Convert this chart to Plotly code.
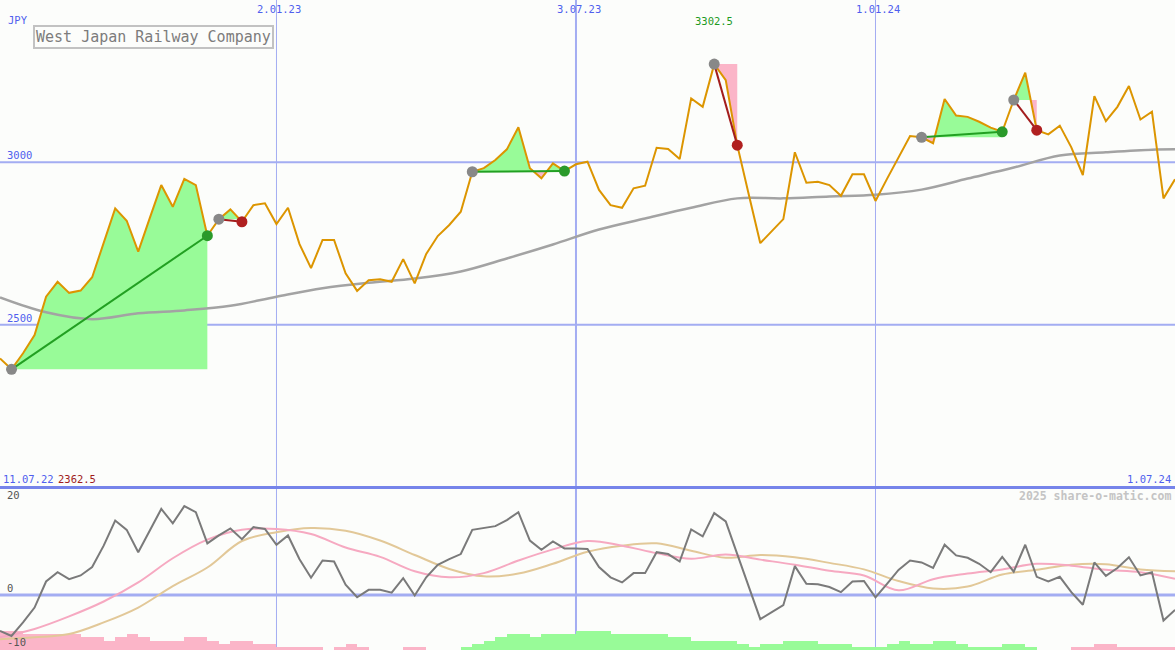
import pandas as pd
import plotly.graph_objects as go

# ---------------- data ----------------
start_date = "2022-07-18"
n_weeks = 103
dates = pd.date_range(start_date, periods=n_weeks, freq="7D")

price = [2396, 2362.5, 2412, 2468, 2586, 2632, 2598, 2605, 2646, 2752,
         2858, 2820, 2725, 2828, 2930, 2863, 2949, 2930, 2774, 2825,
         2855, 2817, 2868, 2874, 2810, 2860, 2748, 2674, 2761, 2761,
         2658, 2604, 2637, 2640, 2632, 2702, 2627, 2718, 2773, 2807,
         2848, 2971, 2982, 3007, 3040, 3108, 2982, 2951, 2997, 2973,
         2994, 3002, 2915, 2868, 2860, 2920, 2928, 3045, 3041, 3010,
         3197, 3171, 3302.5, 3253, 3053, 2901, 2751, 2788, 2825, 3031,
         2937, 2940, 2930, 2897, 2963, 2963, 2881, 2949, 3016, 3081,
         3077, 3059, 3195, 3144, 3140, 3125, 3107, 3094, 3192, 3276,
         3099, 3086, 3113, 3046, 2961, 3204, 3127, 3171, 3235, 3132,
         3156, 2889, 2948]

# long moving average (grey), read at selected weeks
ma_weeks = [0, 4, 8, 12, 16, 20, 24, 28, 32, 36, 40, 44, 48, 52, 56, 60,
            64, 68, 72, 76, 80, 84, 88, 92, 96, 100, 102]
ma_vals = [2584, 2538, 2517, 2535, 2544, 2558, 2586, 2612, 2629, 2642, 2664,
           2704, 2747, 2793, 2827, 2860, 2889, 2889, 2895, 2900, 2916, 2950,
           2984, 3021, 3031, 3039, 3040]

# trend segments: (start week, end week)
segments = [(1, 18), (19, 21), (41, 49), (62, 64), (80, 87), (88, 90)]

# oscillator (lower panel)
osc = [-7.7, -8.8, -5.9, -2.7, 2.9, 4.9, 3.4, 4.2, 6.0, 10.6,
       16.0, 14.0, 9.2, 14.0, 18.5, 15.4, 19.1, 17.8, 11.1, 12.8,
       14.3, 12.0, 14.6, 14.2, 10.8, 12.8, 7.7, 3.7, 7.4, 7.2,
       2.2, -0.5, 1.1, 1.1, 0.5, 3.6, -0.1, 3.8, 6.5, 7.7,
       8.8, 14.0, 14.4, 14.8, 16.1, 17.8, 11.7, 9.7, 11.5, 10.0,
       10.0, 9.9, 6.0, 3.8, 2.7, 4.7, 4.7, 9.2, 8.8, 7.2,
       14.1, 12.6, 17.6, 15.8, 8.8, 1.7, -5.2, -3.7, -2.2, 6.2,
       2.4, 2.3, 1.7, 0.6, 2.9, 3.0, -0.5, 2.4, 5.4, 7.4,
       7.0, 5.8, 10.8, 8.5, 8.0, 6.7, 4.9, 8.2, 5.0, 10.8,
       3.9, 2.9, 3.9, 0.6, -2.1, 7.0, 4.1, 5.8, 8.1, 4.2,
       4.9, -5.5, -3.2]

avg_weeks = list(range(0, 103, 3))
avg_pink = [-9.1, -7.3, -4.6, -1.4, 2.7, 7.9, 11.9, 14.0, 14.2, 13.1, 10.2, 8.2,
            5.1, 3.8, 4.7, 7.4, 9.8, 11.6, 10.6, 9.0, 7.8, 8.7, 7.6, 6.5,
            5.2, 4.2, 1.0, 3.4, 4.6, 5.5, 6.7, 6.3, 5.4, 4.9, 3.5]
avg_tan = [-9.5, -9.1, -8.4, -5.9, -2.7, 1.9, 5.9, 11.6, 13.5, 14.4, 13.8, 11.7,
           8.6, 5.6, 4.0, 4.6, 6.7, 9.3, 10.6, 11.1, 9.5, 8.0, 8.6, 8.1,
           6.9, 5.5, 3.0, 1.4, 1.8, 4.4, 5.4, 6.5, 6.6, 5.5, 5.1]

# histogram levels, one per week interval
hist = [-6, -6, -5, -5, -5, -5, -5, -4, -4, -3,
        -4, -5, -4, -3, -3, -3, -4, -4, -3, -2,
        -3, -3, -2, -2, -1, -1, -1, -1, 0, -1,
        -2, -1, 0, 0, 0, -1, -1, 0, 0, 0,
        1, 2, 3, 4, 5, 5, 4, 5, 5, 5,
        6, 6, 6, 5, 5, 5, 5, 5, 4, 4,
        3, 3, 3, 3, 2, 1, 2, 2, 3, 3,
        3, 2, 2, 2, 1, 1, 1, 2, 3, 2,
        2, 3, 3, 2, 1, 1, 1, 2, 2, 1,
        0, 0, 0, -1, -1, -2, -2, -1, -1, -1,
        -1, -1]

tick_dates = ["2023-01-02", "2023-07-03", "2024-01-01"]
tick_labels = ["2.01.23", "3.07.23", "1.01.24"]
tick_widths = [1, 2, 1]
main_levels = [2500, 3000]
low_levels = [20, 0, -10]
title = "West Japan Railway Company"
currency = "JPY"
first_label = "11.07.22"
last_label = "1.07.24"
copyright_text = "2025 share-o-matic.com"

# ---------------- style ----------------
W, H = 1175, 650
BG = "#fcfdfb"
BLUE_TXT = "#4f5fee"
GRID = "#a3adf2"
SEP = "#7684ea"
ORANGE = "#dc9500"
MA_GREY = "#a3a3a3"
OSC_GREY = "#7a7a7a"
PINK_LINE = "#f6a9c1"
TAN_LINE = "#e2c898"
FILL_GREEN = "#98fb98"
FILL_PINK = "#fbb5c8"
LINE_GREEN = "#22a022"
LINE_RED = "#a31d1d"
DOT_GREY = "#888888"
DOT_GREEN = "#2a9a2a"
DOT_RED = "#b02020"
FONT = "DejaVu Sans Mono"

MAIN_RANGE = [2000, 3500]
LOW_RANGE = [-11.83, 23.0]
MAIN_BOTTOM_PX = 487
LOW_TOP_PX = 488
BAR_UNIT = 3.15 / ((H - LOW_TOP_PX) / (LOW_RANGE[1] - LOW_RANGE[0]))

fig = go.Figure()

# ---- trend fills ----
def seg_fill(i0, i1):
    base = price[i0]
    xs, hi, lo = [], [], []
    for k in range(i0, i1 + 1):
        if k > i0:
            a, b = price[k - 1] - base, price[k] - base
            if a * b < 0:
                f = a / (a - b)
                t = dates[k - 1] + (dates[k] - dates[k - 1]) * f
                xs.append(t); hi.append(base); lo.append(base)
        xs.append(dates[k])
        hi.append(max(price[k], base))
        lo.append(min(price[k], base))
    return xs, base, hi, lo

for (i0, i1) in segments:
    xs, base, hi, lo = seg_fill(i0, i1)
    for vals, col in ((hi, FILL_GREEN), (lo, FILL_PINK)):
        fig.add_trace(go.Scatter(x=xs, y=[base] * len(xs), mode="lines",
                                 line=dict(width=0), hoverinfo="skip",
                                 xaxis="x", yaxis="y"))
        fig.add_trace(go.Scatter(x=xs, y=vals, mode="lines", line=dict(width=0),
                                 fill="tonexty", fillcolor=col, hoverinfo="skip",
                                 xaxis="x", yaxis="y"))

# ---- moving average & price ----
fig.add_trace(go.Scatter(x=[dates[i] for i in ma_weeks], y=ma_vals, mode="lines",
                         line=dict(color=MA_GREY, width=2.5, shape="spline", smoothing=1.0),
                         xaxis="x", yaxis="y"))
fig.add_trace(go.Scatter(x=dates, y=price, mode="lines",
                         line=dict(color=ORANGE, width=2), xaxis="x", yaxis="y"))

# ---- segment lines and dots ----
for (i0, i1) in segments:
    up = price[i1] >= price[i0]
    lc = LINE_GREEN if up else LINE_RED
    fig.add_trace(go.Scatter(x=[dates[i0], dates[i1]], y=[price[i0], price[i1]],
                             mode="lines", line=dict(color=lc, width=2),
                             xaxis="x", yaxis="y"))
    fig.add_trace(go.Scatter(x=[dates[i0], dates[i1]], y=[price[i0], price[i1]],
                             mode="markers",
                             marker=dict(size=11, color=[DOT_GREY, DOT_GREEN if up else DOT_RED],
                                         line=dict(width=0)),
                             xaxis="x", yaxis="y"))

# ---- lower panel ----
bar_w = 7 * 24 * 3600 * 1000
fig.add_trace(go.Bar(x=list(dates[:len(hist)]), y=[abs(v) * BAR_UNIT for v in hist],
                     base=LOW_RANGE[0], offset=0, width=bar_w,
                     marker=dict(color=[FILL_GREEN if v > 0 else FILL_PINK for v in hist],
                                 line=dict(width=0)),
                     xaxis="x2", yaxis="y2"))
fig.add_trace(go.Scatter(x=[dates[i] for i in avg_weeks], y=avg_tan, mode="lines",
                         line=dict(color=TAN_LINE, width=2, shape="spline"),
                         xaxis="x2", yaxis="y2"))
fig.add_trace(go.Scatter(x=[dates[i] for i in avg_weeks], y=avg_pink, mode="lines",
                         line=dict(color=PINK_LINE, width=2, shape="spline"),
                         xaxis="x2", yaxis="y2"))
fig.add_trace(go.Scatter(x=dates, y=osc, mode="lines",
                         line=dict(color=OSC_GREY, width=2),
                         xaxis="x2", yaxis="y2"))

# ---- shapes ----
shapes = []
for d, w in zip(tick_dates, tick_widths):
    shapes.append(dict(type="line", xref="x", yref="paper", x0=d, x1=d, y0=0, y1=1,
                       line=dict(color=GRID, width=w), layer="below"))
for lv in main_levels:
    shapes.append(dict(type="line", xref="paper", yref="y", x0=0, x1=1, y0=lv, y1=lv,
                       line=dict(color=GRID, width=2), layer="below"))
shapes.append(dict(type="line", xref="paper", yref="y2", x0=0, x1=1, y0=0, y1=0,
                   line=dict(color=GRID, width=3), layer="below"))
sep_y = 1 - (MAIN_BOTTOM_PX + 0.5) / H
shapes.append(dict(type="line", xref="paper", yref="paper", x0=0, x1=1, y0=sep_y, y1=sep_y,
                   line=dict(color=SEP, width=3), layer="above"))

# ---- annotations ----
def px(x):
    return x / W

def py(y):
    return 1 - y / H

ann = []
def txt(text, x, y, color, size=10.5, anchor="left", bold=False, **kw):
    ann.append(dict(text=f"<b>{text}</b>" if bold else text, xref="paper", yref="paper",
                    x=px(x), y=py(y), xanchor=anchor, yanchor="middle", showarrow=False,
                    font=dict(family=FONT, size=size, color=color), **kw))

for d, lab in zip(tick_dates, tick_labels):
    ann.append(dict(text=lab, xref="x", yref="paper", x=d, y=py(9), xanchor="center",
                    yanchor="middle", xshift=3, showarrow=False,
                    font=dict(family=FONT, size=10.5, color=BLUE_TXT)))
txt(currency, 6, 20, BLUE_TXT)
for lv in main_levels:
    ann.append(dict(text=str(lv), xref="paper", yref="y", x=px(5), y=lv, xanchor="left",
                    yanchor="bottom", yshift=-1, showarrow=False,
                    font=dict(family=FONT, size=10.5, color=BLUE_TXT)))
imax = price.index(max(price))
ann.append(dict(text=f"{max(price):.1f}", xref="x", yref="paper", x=dates[imax], y=py(21),
                xanchor="center", yanchor="middle", showarrow=False,
                font=dict(family=FONT, size=10.5, color="#1e9a1e")))
txt(first_label, 1, 479, BLUE_TXT)
txt(f"{min(price):.1f}", 56, 479, "#a01c1c")
txt(last_label, 1173, 479, BLUE_TXT, anchor="right")
txt(copyright_text, 1173, 496, "#c4c4c4", size=11.5, anchor="right", bold=True)
for lv in low_levels:
    ann.append(dict(text=str(lv), xref="paper", yref="y2", x=px(5), y=lv, xanchor="left",
                    yanchor="middle" if lv < 0 else "bottom", yshift=-1,
                    showarrow=False,
                    font=dict(family=FONT, size=10.5, color="#555555")))
ann.append(dict(text=title, xref="paper", yref="paper", x=px(33), y=py(25),
                xanchor="left", yanchor="top", showarrow=False,
                font=dict(family=FONT, size=15, color="#7c7c7c"),
                bgcolor=BG, bordercolor="#c2c2c2", borderwidth=2, borderpad=1))

fig.update_layout(
    width=W, height=H, margin=dict(l=0, r=0, t=0, b=0),
    paper_bgcolor=BG, plot_bgcolor=BG, showlegend=False,
    xaxis=dict(type="date", range=[dates[0], dates[-1]], domain=[0, 1], anchor="y",
               visible=False, fixedrange=True),
    yaxis=dict(range=MAIN_RANGE, domain=[1 - MAIN_BOTTOM_PX / H, 1], visible=False),
    xaxis2=dict(type="date", range=[dates[0], dates[-1]], domain=[0, 1], anchor="y2",
                visible=False),
    yaxis2=dict(range=LOW_RANGE, domain=[0, (H - LOW_TOP_PX) / H], visible=False),
    shapes=shapes, annotations=ann, bargap=0,
)

fig.write_html("out.html", config={"displayModeBar": False},
               post_script="document.body.style.margin='0';")
